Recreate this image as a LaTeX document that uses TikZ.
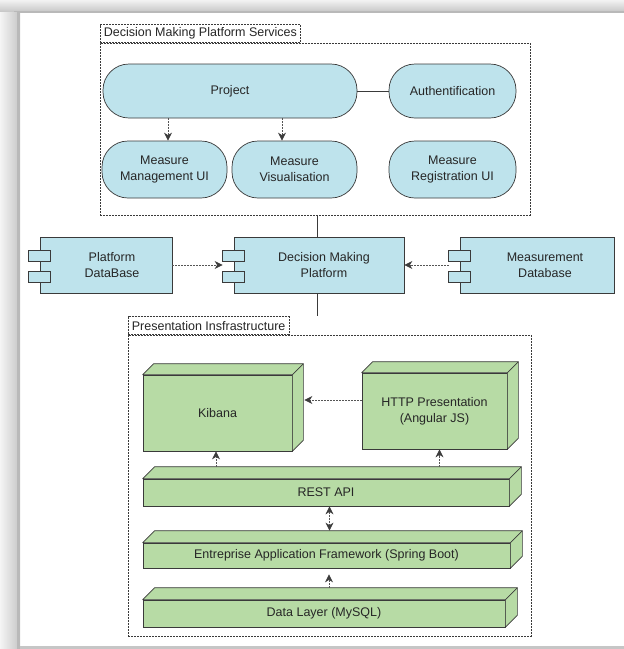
\documentclass[tikz,border=0pt]{standalone}
\usepackage{fontspec}
\setmainfont{Liberation Sans}
\usetikzlibrary{arrows.meta,calc}

\definecolor{uiblue}{HTML}{BEE3EC}
\definecolor{nodegreen}{HTML}{B7DBA5}
\definecolor{edgegray}{HTML}{3A3A3A}
\definecolor{depgray}{HTML}{555555}
\definecolor{tipgray}{HTML}{3C3C3C}
\definecolor{ink}{HTML}{262626}

\tikzset{
  every node/.style={font=\fontsize{12.5}{16}\selectfont, text=ink},
  frame/.style={draw=edgegray, line width=0.7pt, dash pattern=on 2pt off 1pt, inner sep=0pt},
  tabbox/.style={frame, anchor=south west, minimum height=18pt, inner xsep=3.5pt},
  usecase/.style={draw=edgegray, fill=uiblue, line width=0.7pt, rounded corners=26pt, align=center, inner sep=0pt},
  component/.style={draw=edgegray, fill=uiblue, line width=0.7pt, inner sep=0pt, minimum height=56pt},
  device/.style={draw=edgegray, fill=nodegreen, line width=0.7pt, align=center, inner sep=0pt},
  deptip/.tip={Stealth[length=8pt,width=8pt,inset=2.5pt,fill=tipgray,color=tipgray]},
  dep/.style={draw=depgray, line width=0.75pt, dash pattern=on 2pt off 1pt, -deptip},
  biddep/.style={draw=depgray, line width=0.75pt, dash pattern=on 2pt off 1pt, deptip-deptip},
  link/.style={draw=edgegray, line width=0.7pt},
}

% the two small tabs on the left side of a UML component
\newcommand\comptabs[1]{%
  \draw[draw=edgegray, fill=uiblue, line width=0.7pt] ($(#1.north west)+(-11,14)$) rectangle ++(22,11);
  \draw[draw=edgegray, fill=uiblue, line width=0.7pt] ($(#1.north west)+(-11,35)$) rectangle ++(22,11);
}
% top and right faces of a 3D deployment node
\newcommand\cubefaces[2]{%
  \filldraw[draw=edgegray, fill=nodegreen, line width=0.7pt, line join=round]
    (#1.north west) -- ($(#1.north west)+(#2,-#2)$) -- ($(#1.north east)+(#2,-#2)$)
    -- ($(#1.south east)+(#2,-#2)$) -- (#1.south east) -- (#1.north east) -- cycle;
  \draw[edgegray, line width=0.7pt] (#1.north east) -- ($(#1.north east)+(#2,-#2)$);
}

\begin{document}
\begin{tikzpicture}[x=1pt,y=-1pt]
\useasboundingbox (0,0) rectangle (624,649);

% window shadow
\fill[white] (0,0) rectangle (624,649);
\shade[top color=gray!10, bottom color=gray!45] (0,0) rectangle (624,12);
\fill[gray!55] (14,10.5) rectangle (624,12.5);
\shade[left color=gray!8, right color=gray!45] (0,12) rectangle (20,649);
\fill[gray!55] (17,12) rectangle (20,649);
\fill[gray!45] (20,646) rectangle (624,649);

% ---- Decision Making Platform Services ----
\node[tabbox] (svctab) at (100,43) {Decision Making Platform Services};
\node[frame, minimum width=430pt, minimum height=172pt] (svc) at (315,129) {};

\node[usecase, minimum width=254pt, minimum height=54pt] (project) at (230,91) {Project};
\node[usecase, minimum width=127pt, minimum height=54pt] (auth) at (452.5,91) {Authentification};
\node[usecase, minimum width=125pt, minimum height=57pt] (mmui) at (164.5,169.5) {Measure\\Management UI};
\node[usecase, minimum width=125pt, minimum height=57pt] (mvis) at (294.5,169.5) {Measure\\Visualisation};
\node[usecase, minimum width=127pt, minimum height=57pt] (mreg) at (452.5,169.5) {Measure\\Registration UI};

\draw[link] (project.east) -- (auth.west);
\draw[dep] ($(mmui.north |- project.south)+(3.5,0)$) -- ($(mmui.north)+(3.5,0)$);
\draw[dep] ($(mvis.north |- project.south)+(-12.5,0)$) -- ($(mvis.north)+(-12.5,0)$);

% ---- components ----
\node[component, minimum width=132pt,
  label={[align=center,xshift=6pt]center:Platform\\DataBase}] (pdb) at (106,265) {};
\node[component, minimum width=170pt,
  label={[align=center,xshift=5pt]center:Decision Making\\Platform}] (dmp) at (319,265) {};
\node[component, minimum width=154pt,
  label={[align=center,xshift=8pt]center:Measurement\\Database}] (mdb) at (537,265) {};
\comptabs{pdb}
\comptabs{dmp}
\comptabs{mdb}

\coordinate (dmpin) at ($(dmp.west)+(-11,0)$);
\coordinate (mdbout) at ($(mdb.west)+(-11,0)$);
\coordinate (dmptail) at ($(dmp.south)+(-2,23)$);

\draw[link] (svc.south -| dmptail) -- (dmptail |- dmp.north);
\draw[link] (dmptail |- dmp.south) -- (dmptail);
\draw[dep] (pdb.east) -- (dmpin);
\draw[dep] (mdbout) -- (dmp.east);

% ---- Presentation Infrastructure ----
\node[tabbox] (prestab) at (128,335) {Presentation Insfrastructure};
\node[frame, minimum width=403pt, minimum height=301pt] (pres) at (329.5,485.5) {};

\node[device, minimum width=149pt, minimum height=76pt] (kibana) at (217.5,413) {Kibana};
\cubefaces{kibana}{11}
\node[device, minimum width=145pt, minimum height=76pt] (http) at (434.5,411) {HTTP Presentation\\(Angular JS)};
\cubefaces{http}{11}
\node[device, minimum width=366pt, minimum height=27pt] (rest) at (326,492.5) {REST API};
\cubefaces{rest}{12}
\node[device, minimum width=367pt, minimum height=25pt] (eaf) at (326.5,555.5) {Entreprise Application Framework (Spring Boot)};
\cubefaces{eaf}{12}
\node[device, minimum width=362pt, minimum height=27pt] (data) at (324,613.5) {Data Layer (MySQL)};
\cubefaces{data}{12}

\coordinate (resttop) at ($(rest.north)+(0,-12)$);
\coordinate (eaftop) at ($(eaf.north)+(3,-12)$);
\coordinate (datatop) at ($(data.north)+(5,-12)$);

\draw[dep] ($(http.west)+(0,-11)$) -- ($(kibana.east)+(12,-13)$);
\draw[dep] ($(kibana.south |- resttop)+(-1.5,0)$) -- ($(kibana.south)+(-1.5,0)$);
\draw[dep] ($(http.south |- resttop)+(5,0)$) -- ($(http.south)+(5,0)$);
\draw[biddep] (rest.south -| eaftop) -- (eaftop);
\draw[dep, shorten >=6pt] (datatop) -- (datatop |- eaf.south);
\end{tikzpicture}
\end{document}
